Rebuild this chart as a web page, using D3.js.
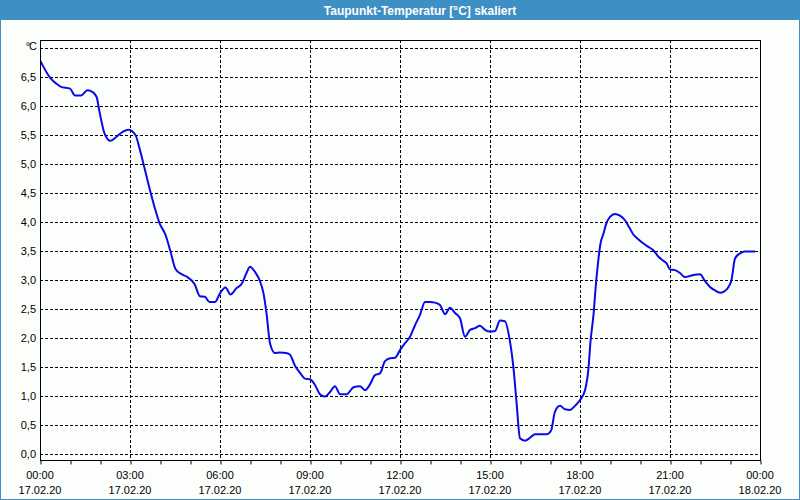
<!DOCTYPE html>
<html>
<head>
<meta charset="utf-8">
<script src="https://cdn.jsdelivr.net/npm/d3@7"></script>
<style>
  html, body { margin: 0; padding: 0; background: #fcfefc; }
  svg { display: block; }
</style>
</head>
<body>
<svg id="chart" width="800" height="500"></svg>
<script>
// ---- data (minutes after 17.02.20 00:00, dew point °C) ----
const title = "Taupunkt-Temperatur [°C] skaliert";
const unitLabel = "°C";
const minutes = [
  0, 20, 32, 42, 60, 70, 82, 95, 101, 113, 119, 129, 141, 153, 166, 177, 191, 199, 209, 219,
  229, 239, 251, 261, 271, 283, 293, 309, 320, 330, 339, 350, 360, 371, 381, 393, 403, 413, 420, 430,
  439, 447, 453, 460, 470, 480, 492, 500, 510, 520, 530, 540, 550, 560, 570, 580, 590, 600, 613, 627,
  640, 650, 660, 670, 680, 690, 700, 710, 720, 730, 740, 750, 760, 770, 780, 790, 800, 810, 820, 830,
  840, 850, 860, 870, 880, 890, 900, 910, 920, 930, 939, 947, 953, 960, 970, 980, 990, 1000, 1013, 1022,
  1030, 1040, 1050, 1060, 1070, 1080, 1090, 1097, 1101, 1107, 1112, 1117, 1121, 1127, 1132, 1140, 1150, 1160, 1170, 1179,
  1187, 1197, 1207, 1217, 1227, 1237, 1247, 1253, 1260, 1270, 1280, 1290, 1300, 1310, 1320, 1330, 1340, 1350, 1360, 1368,
  1377, 1383, 1390, 1400, 1410, 1430
];
const dewPoint = [
  6.79, 6.49, 6.39, 6.33, 6.30, 6.18, 6.18, 6.27, 6.26, 6.16, 5.90, 5.53, 5.40, 5.47, 5.56, 5.59, 5.50, 5.27, 4.93, 4.58,
  4.26, 3.98, 3.78, 3.49, 3.19, 3.10, 3.06, 2.93, 2.72, 2.71, 2.62, 2.62, 2.77, 2.87, 2.75, 2.86, 2.93, 3.12, 3.23, 3.14,
  3.00, 2.77, 2.43, 1.91, 1.74, 1.75, 1.74, 1.71, 1.52, 1.40, 1.30, 1.29, 1.19, 1.03, 0.99, 1.07, 1.17, 1.03, 1.03, 1.15,
  1.17, 1.10, 1.20, 1.36, 1.39, 1.60, 1.65, 1.66, 1.79, 1.91, 2.02, 2.22, 2.40, 2.62, 2.62, 2.61, 2.57, 2.41, 2.52, 2.43,
  2.34, 2.02, 2.14, 2.17, 2.21, 2.14, 2.11, 2.12, 2.30, 2.29, 1.99, 1.48, 0.90, 0.27, 0.23, 0.28, 0.34, 0.34, 0.34, 0.40,
  0.73, 0.83, 0.77, 0.76, 0.83, 0.93, 1.10, 1.48, 1.94, 2.40, 2.94, 3.37, 3.63, 3.80, 3.96, 4.09, 4.14, 4.11, 4.03, 3.90,
  3.78, 3.70, 3.63, 3.57, 3.51, 3.40, 3.33, 3.29, 3.18, 3.17, 3.12, 3.05, 3.07, 3.09, 3.10, 2.98, 2.88, 2.82, 2.78, 2.80,
  2.88, 3.00, 3.37, 3.46, 3.49, 3.49
];
const yTicks = [0, 0.5, 1, 1.5, 2, 2.5, 3, 3.5, 4, 4.5, 5, 5.5, 6, 6.5, 7];
const yTickLabels = ["0,0","0,5","1,0","1,5","2,0","2,5","3,0","3,5","4,0","4,5","5,0","5,5","6,0","6,5",""];
const xTickHours = [0, 3, 6, 9, 12, 15, 18, 21, 24];
const xTickTimes = ["00:00","03:00","06:00","09:00","12:00","15:00","18:00","21:00","00:00"];
const xTickDates = ["17.02.20","17.02.20","17.02.20","17.02.20","17.02.20","17.02.20","17.02.20","17.02.20","18.02.20"];
const minorTickHours = d3.range(0, 25);

// ---- layout ----
const W = 800, H = 500;
const L = 40, R = 760, T = 40, B = 460;
const svg = d3.select("#chart");
const font = "'Liberation Sans', Arial, sans-serif";
const blue = "#3d8fc4";

// window border + title bar
svg.append("rect").attr("x", 0.5).attr("y", 0.5).attr("width", W - 1).attr("height", H - 1)
  .attr("fill", "#fcfefc").attr("stroke", blue).attr("stroke-width", 1);
svg.append("rect").attr("x", 0).attr("y", 0).attr("width", W).attr("height", 20).attr("fill", blue);
svg.append("text").attr("x", 420).attr("y", 14.5).attr("text-anchor", "middle")
  .attr("font-family", font).attr("font-size", 12).attr("font-weight", "bold")
  .attr("fill", "#ffffff").text(title);

// scales
const x = d3.scaleLinear().domain([0, 24 * 60]).range([L, R]);
const y = d3.scaleLinear().domain([0, 7]).range([454, 48]);

// grid
const g = svg.append("g");
g.selectAll("line.hgrid").data(yTicks).join("line")
  .attr("x1", L).attr("x2", R)
  .attr("y1", d => Math.round(y(d)) + 0.5).attr("y2", d => Math.round(y(d)) + 0.5)
  .attr("stroke", "#000").attr("stroke-width", 1).attr("stroke-dasharray", "3,2");
g.selectAll("line.vgrid").data(xTickHours.slice(1, -1)).join("line")
  .attr("x1", d => Math.round(x(d * 60)) + 0.5).attr("x2", d => Math.round(x(d * 60)) + 0.5)
  .attr("y1", T).attr("y2", B)
  .attr("stroke", "#000").attr("stroke-width", 1).attr("stroke-dasharray", "3,2");

// x axis (hourly ticks)
const xAxis = d3.axisBottom(x)
  .tickValues(minorTickHours.map(h => h * 60))
  .tickSize(4).tickFormat("");
const ax = svg.append("g").attr("transform", `translate(0.5,${B + 0.5})`).call(xAxis);
ax.select(".domain").remove();
ax.selectAll("line").attr("stroke", "#000");

// frame
svg.append("rect").attr("x", L + 0.5).attr("y", T + 0.5).attr("width", R - L).attr("height", B - T)
  .attr("fill", "none").attr("stroke", "#000").attr("stroke-width", 1);

// y labels
svg.selectAll("text.ylab").data(yTicks).join("text")
  .attr("x", 36).attr("y", d => y(d) + 4)
  .attr("text-anchor", "end").attr("font-family", font).attr("font-size", 11).attr("fill", "#000")
  .text((d, i) => yTickLabels[i]);
svg.append("text").attr("x", 36).attr("y", 50).attr("text-anchor", "end")
  .attr("font-family", font).attr("font-size", 11).attr("letter-spacing", -1).attr("fill", "#000").text(unitLabel);

// x labels
xTickHours.forEach((h, i) => {
  svg.append("text").attr("x", x(h * 60)).attr("y", 479).attr("text-anchor", "middle")
    .attr("font-family", font).attr("font-size", 11).attr("fill", "#000").text(xTickTimes[i]);
  svg.append("text").attr("x", x(h * 60)).attr("y", 494).attr("text-anchor", "middle")
    .attr("font-family", font).attr("font-size", 11).attr("fill", "#000").text(xTickDates[i]);
});

// line
svg.append("clipPath").attr("id", "clip").append("rect")
  .attr("x", L + 1).attr("y", T + 1).attr("width", R - L - 1).attr("height", B - T - 1);
const pts = minutes.map((m, i) => [m, dewPoint[i]]);
const line = d3.line().x(d => x(d[0])).y(d => y(d[1])).curve(d3.curveMonotoneX);
svg.append("path").attr("clip-path", "url(#clip)").datum(pts)
  .attr("d", line).attr("fill", "none").attr("stroke", "#0a0ae6").attr("stroke-width", 2)
  .attr("stroke-linejoin", "round");
</script>
</body>
</html>
